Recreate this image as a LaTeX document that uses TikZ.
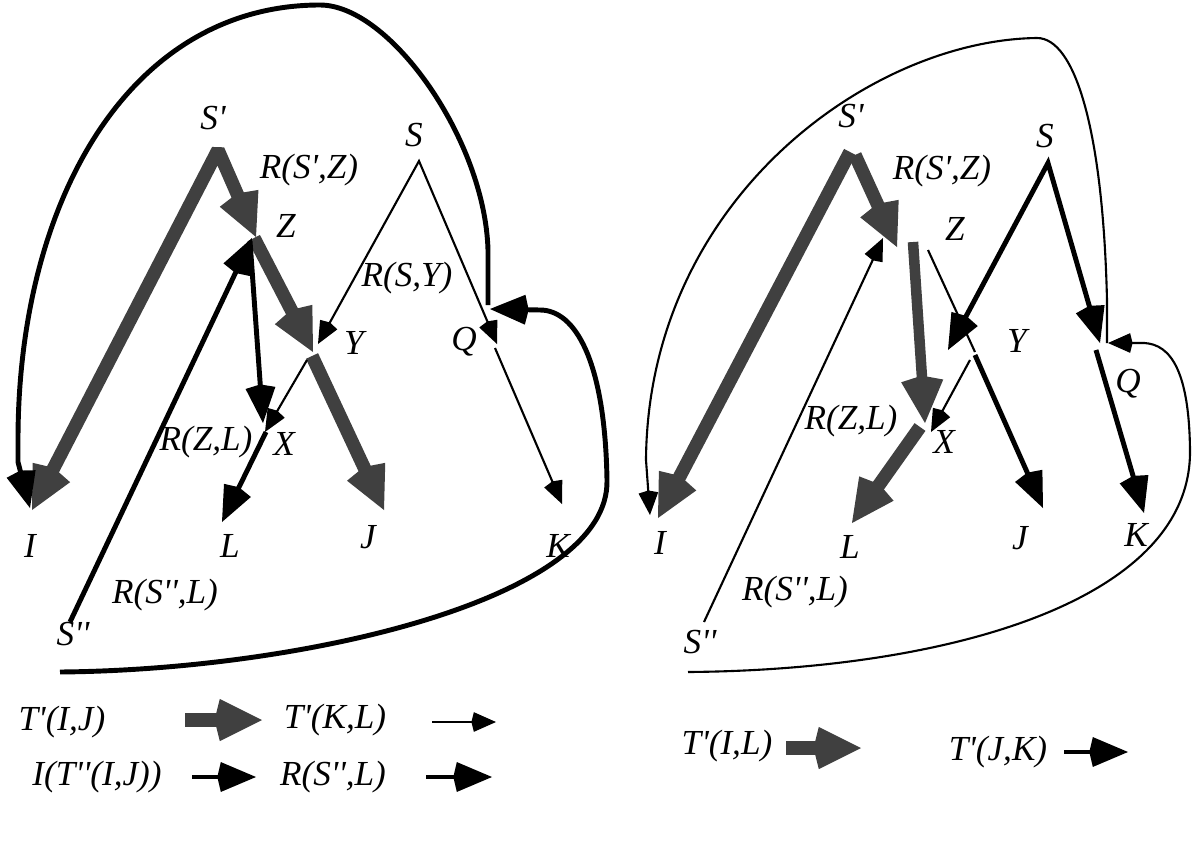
\documentclass[tikz,border=0pt]{standalone}
\usepackage{fontspec}
\setmainfont{Liberation Serif}
\usetikzlibrary{arrows.meta}
\definecolor{tgrey}{RGB}{64,64,64}
\newcommand\pq{\textquotesingle}
\tikzset{
    gk/.tip={Kite[length=13.5pt,width=12pt,inset=1.5pt]},
    bk/.tip={Kite[length=11pt,width=8.5pt,inset=1pt]},
    fk/.tip={Kite[length=7pt,width=5.6pt,inset=0.7pt]},
}
\begin{document}
\begin{tikzpicture}[
    x=0.01cm,y=-0.01cm,
    lab/.style={font=\itshape\fontsize{10}{12}\selectfont,inner sep=0pt},
    tarr/.style={draw=tgrey,line width=3.8pt,-gk},
    barr/.style={line width=1.4pt,-bk},
    farr/.style={line width=0.6pt,-fk},
]
    \useasboundingbox (0,0) rectangle (1193,845);

    % left tree
    \node[lab] (aSpL) at (213,118) {S\pq};
    \node[lab] (aRSZ) at (309,170) {R(S\pq,Z)};
    \node[lab] (aZL) at (286,226) {Z};
    \node[lab] (aSL) at (414,135) {S};
    \node[lab] (aRSY) at (407,278) {R(S,Y)};
    \node[lab] (aYL) at (354,343) {Y};
    \node[lab] (aQL) at (464,342) {Q};
    \node[lab] (aXL) at (284,444) {X};
    \node[lab] (aRZL) at (206,442) {R(Z,L)};
    \node[lab] (aIL) at (30,546) {I};
    \node[lab] (aLL) at (230,546) {L};
    \node[lab] (aJL) at (368,537) {J};
    \node[lab] (aKL) at (558,546) {K};
    \node[lab] (aRSL) at (165,595) {R(S\pq\pq,L)};
    \node[lab] (aSppL) at (73,634) {S\pq\pq};

    \coordinate (aSp) at (218,150);
    \coordinate (aI) at (32,510);
    \coordinate (aZ) at (256,237);
    \coordinate (aZo) at (254,238);
    \coordinate (aY) at (313,352);
    \coordinate (aYo) at (312,356);
    \coordinate (aJ) at (384,510);
    \coordinate (aSpp) at (70,622);
    \coordinate (aZi) at (252,238);
    \coordinate (aZb) at (250,241);
    \coordinate (aXi) at (263,423);
    \coordinate (aXo) at (266,432);
    \coordinate (aL) at (222,522);
    \coordinate (aS) at (419,161);
    \coordinate (aYi) at (318,344);
    \coordinate (aQi) at (497,344);
    \coordinate (aQo) at (495,348);
    \coordinate (aK) at (562,504);
    \coordinate (aYx) at (307,360);
    \coordinate (aXf) at (265,432);
    \coordinate (aQa) at (488,305);
    \coordinate (aIb) at (30,508);
    \coordinate (aSppb) at (60,672);
    \coordinate (aQb) at (490,309);

    \draw[tarr,gk-gk,line join=bevel] (aI) -- (aSp) -- (aZ);
    \draw[tarr] (aZo) -- (aY);
    \draw[tarr] (aYo) -- (aJ);
    \draw[barr] (aSpp) -- (aZi);
    \draw[barr] (aZb) -- (aXi);
    \draw[barr] (aXo) -- (aL);
    \draw[farr,fk-fk] (aYi) -- (aS) -- (aQi);
    \draw[farr] (aQo) -- (aK);
    \draw[farr] (aYx) -- (aXf);
    \draw[barr] (aQa) -- (488,250) .. controls (485,140) and (390,5) .. (320,5)
        .. controls (130,5) and (18,200) .. (18,440) -- (18,462) -- (aIb);
    \draw[barr] (aSppb) .. controls (300,670) and (610,600) .. (607,480)
        .. controls (605,360) and (575,310) .. (540,310) -- (aQb);

    % right tree
    \node[lab] (bSpL) at (851,116) {S\pq};
    \node[lab] (bRSZ) at (942,171) {R(S\pq,Z)};
    \node[lab] (bSL) at (1045,136) {S};
    \node[lab] (bZL) at (955,229) {Z};
    \node[lab] (bYL) at (1017,341) {Y};
    \node[lab] (bQL) at (1128,384) {Q};
    \node[lab] (bRZL) at (851,421) {R(Z,L)};
    \node[lab] (bXL) at (944,442) {X};
    \node[lab] (bIL) at (660,543) {I};
    \node[lab] (bLL) at (850,547) {L};
    \node[lab] (bJL) at (1020,538) {J};
    \node[lab] (bKL) at (1136,535) {K};
    \node[lab] (bRSL) at (795,592) {R(S\pq\pq,L)};
    \node[lab] (bSppL) at (700,642) {S\pq\pq};

    \coordinate (bSpa) at (850,152);
    \coordinate (bSpb) at (855,155);
    \coordinate (bI) at (658,518);
    \coordinate (bZ) at (897,247);
    \coordinate (bZo) at (913,242);
    \coordinate (bX) at (925,423);
    \coordinate (bXo) at (920,427);
    \coordinate (bL) at (852,523);
    \coordinate (bSpp) at (704,622);
    \coordinate (bZi) at (883,238);
    \coordinate (bZr) at (928,250);
    \coordinate (bYm) at (975,352);
    \coordinate (bS) at (1048,163);
    \coordinate (bYi) at (948,350);
    \coordinate (bQi) at (1100,343);
    \coordinate (bYo) at (975,355);
    \coordinate (bJ) at (1043,508);
    \coordinate (bQo) at (1096,350);
    \coordinate (bK) at (1144,513);
    \coordinate (bYx) at (970,360);
    \coordinate (bXf) at (931,432);
    \coordinate (bQa) at (1107,343);
    \coordinate (bIb) at (650,515);
    \coordinate (bSppb) at (688,672);
    \coordinate (bQb) at (1108,343);

    \draw[tarr] (bSpa) -- (bI);
    \draw[tarr] (bSpb) -- (bZ);
    \draw[tarr,line width=3pt] (bZo) -- (bX);
    \draw[tarr] (bXo) -- (bL);
    \draw[farr] (bSpp) -- (bZi);
    \draw[line width=0.6pt] (bZr) -- (bYm);
    \draw[barr,bk-bk] (bYi) -- (bS) -- (bQi);
    \draw[barr] (bYo) -- (bJ);
    \draw[barr] (bQo) -- (bK);
    \draw[farr] (bYx) -- (bXf);
    \draw[farr] (bQa) -- (1107,300) .. controls (1103,130) and (1075,38) .. (1037,38)
        .. controls (870,40) and (648,200) .. (646,460) -- (bIb);
    \draw[farr] (bSppb) .. controls (950,670) and (1192,600) .. (1190,450)
        .. controls (1189,360) and (1165,342) .. (1140,343) -- (bQb);

    % legend
    \node[lab] (kTIJ) at (62,722) {T\pq(I,J)};
    \coordinate (kTIJa) at (185,720);
    \coordinate (kTIJb) at (262,720);
    \node[lab] (kTKL) at (335,720) {T\pq(K,L)};
    \coordinate (kTKLa) at (432,722);
    \coordinate (kTKLb) at (496,722);
    \node[lab] (kIT) at (97,777) {I(T\pq\pq(I,J))};
    \coordinate (kITa) at (192,777);
    \coordinate (kITb) at (256,777);
    \node[lab] (kRSL) at (333,777) {R(S\pq\pq,L)};
    \coordinate (kRSLa) at (426,777);
    \coordinate (kRSLb) at (492,777);
    \node[lab] (kTIL) at (727,746) {T\pq(I,L)};
    \coordinate (kTILa) at (786,748);
    \coordinate (kTILb) at (861,748);
    \node[lab] (kTJK) at (998,752) {T\pq(J,K)};
    \coordinate (kTJKa) at (1064,752);
    \coordinate (kTJKb) at (1128,752);

    \draw[tarr] (kTIJa) -- (kTIJb);
    \draw[farr] (kTKLa) -- (kTKLb);
    \draw[barr] (kITa) -- (kITb);
    \draw[barr] (kRSLa) -- (kRSLb);
    \draw[tarr] (kTILa) -- (kTILb);
    \draw[barr] (kTJKa) -- (kTJKb);
\end{tikzpicture}
\end{document}
